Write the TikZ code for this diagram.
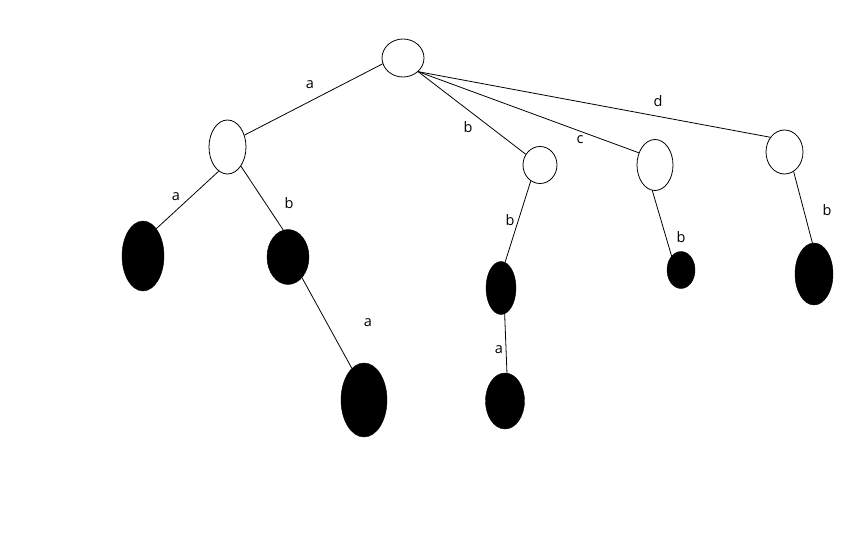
\documentclass[tikz,border=0pt]{standalone}
\usepackage{fontspec}
\setmainfont{Open Sans}
\usepackage{tikz}
\usetikzlibrary{shapes.geometric}

\begin{document}
\begin{tikzpicture}[
  x=1pt, y=-1pt,
  inner/.style={ellipse, draw=black, line width=0.8pt, inner sep=0pt, fill=white},
  final/.style={ellipse, draw=black, fill=black, inner sep=0pt},
  edge/.style={draw=black, line width=0.8pt},
  elabel/.style={font=\fontsize{14.5}{16}\selectfont, inner sep=0pt, text=black}
]
  \useasboundingbox (0,0) rectangle (864,540);
  % trie nodes
  \foreach \name/\x/\y/\w/\h in {
    root/403/58/42/38, A/227.5/147/37/54, B/540/165/34/37,
    C/655/165/36/51, D/784.5/152/37/44
  } {
    \node[inner, minimum width=\w pt, minimum height=\h pt] (\name) at (\x,\y) {};
  }
  \foreach \name/\x/\y/\w/\h in {
    Aa/143/256/42/70, Ab/288/257/42/55, Aba/364/400/46/74,
    Bb/501/288/30/53, Bba/505/401/39/56,
    Cb/681/270/28/37, Db/814/274/38/62
  } {
    \node[final, minimum width=\w pt, minimum height=\h pt] (\name) at (\x,\y) {};
  }
  % edges
  \draw[edge] (root.196) -- (A.35);\draw[edge] (root.318) -- (B.143);\draw[edge] (root.318) -- (C.143);\draw[edge] (root.318) -- (D.134);
  \draw[edge] (A.250) -- (Aa.64);\draw[edge] (A.305) -- (Ab.100);\draw[edge] (Ab.304) -- (Aba.111);
  \draw[edge] (B.240) -- (Bb.81);\draw[edge] (Bb.278) -- (Bba.86);
  \draw[edge] (C.264) -- (Cb.124);\draw[edge] (D.295) -- (Db.93);
  % edge letters
  \foreach \name/\x/\y/\t in {
    lroot/310/85/a, lA/176/197/a, lAb/289/203/b, lAba/368/323/a,
    lrootB/468/127.5/b, lB/510/220/b, lBb/499/350/a,
    lrootC/580/140/c, lC/681/237/b, lrootD/658/101/d, lD/827/210/b
  } {
    \node[elabel] (\name) at (\x,\y) {\t};
  }
\end{tikzpicture}
\end{document}
